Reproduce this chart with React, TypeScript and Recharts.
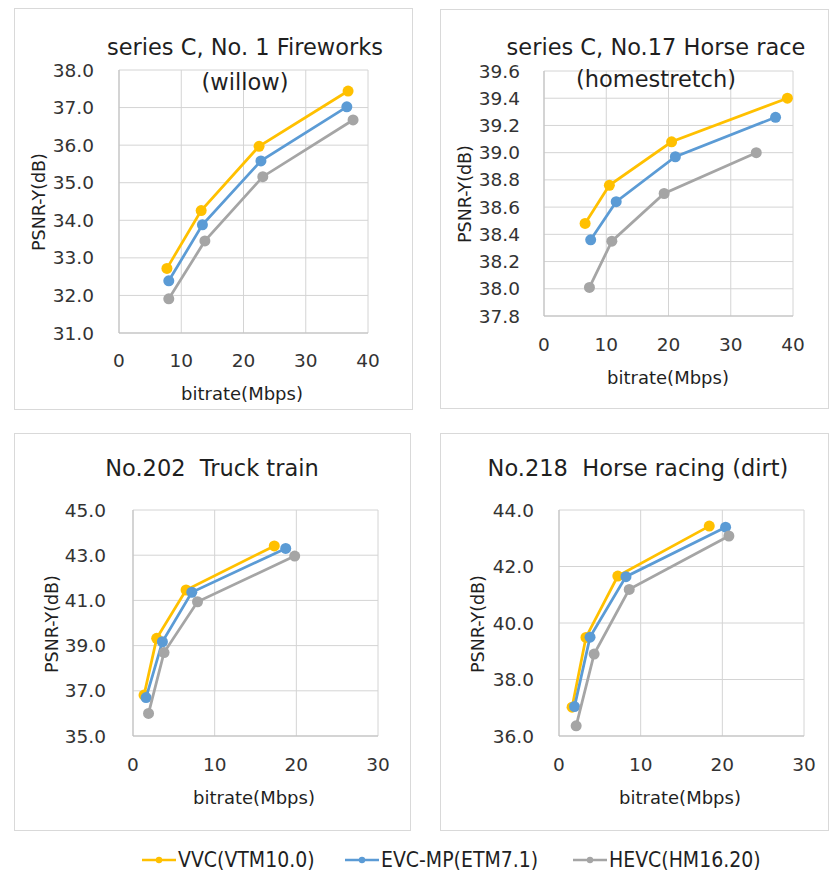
import React from 'react';
import { ScatterChart, Scatter, XAxis, YAxis, CartesianGrid } from 'recharts';

// series C, No.1 Fireworks (willow)
const fwVvcRate = [7.7, 13.2, 22.5, 36.8];
const fwVvcPsnr = [32.72, 34.26, 35.97, 37.44];
const fwEvcRate = [8.0, 13.4, 22.8, 36.6];
const fwEvcPsnr = [32.39, 33.88, 35.58, 37.02];
const fwHevcRate = [8.0, 13.8, 23.1, 37.6];
const fwHevcPsnr = [31.91, 33.45, 35.16, 36.67];

// series C, No.17 Horse race (homestretch)
const hrVvcRate = [6.6, 10.5, 20.5, 39.1];
const hrVvcPsnr = [38.48, 38.76, 39.08, 39.4];
const hrEvcRate = [7.5, 11.6, 21.1, 37.2];
const hrEvcPsnr = [38.36, 38.64, 38.97, 39.26];
const hrHevcRate = [7.3, 10.9, 19.3, 34.1];
const hrHevcPsnr = [38.01, 38.35, 38.7, 39.0];

// No.202 Truck train
const ttVvcRate = [1.35, 2.9, 6.5, 17.3];
const ttVvcPsnr = [36.81, 39.32, 41.46, 43.41];
const ttEvcRate = [1.6, 3.6, 7.2, 18.7];
const ttEvcPsnr = [36.7, 39.17, 41.36, 43.3];
const ttHevcRate = [1.9, 3.8, 7.9, 19.8];
const ttHevcPsnr = [36.0, 38.69, 40.94, 42.96];

// No.218 Horse racing (dirt)
const hdVvcRate = [1.6, 3.3, 7.2, 18.4];
const hdVvcPsnr = [37.02, 39.49, 41.66, 43.43];
const hdEvcRate = [1.9, 3.8, 8.2, 20.4];
const hdEvcPsnr = [37.04, 39.5, 41.64, 43.39];
const hdHevcRate = [2.1, 4.3, 8.6, 20.8];
const hdHevcPsnr = [36.36, 38.9, 41.19, 43.08];

const seriesNames = ['VVC(VTM10.0)', 'EVC-MP(ETM7.1)', 'HEVC(HM16.20)'];
const seriesColors = ['#FFC000', '#5B9BD5', '#A5A5A5'];

const ticksX40 = [0, 10, 20, 30, 40];
const ticksX30 = [0, 10, 20, 30];
const ticksFw = [31, 32, 33, 34, 35, 36, 37, 38];
const ticksHr = [37.8, 38, 38.2, 38.4, 38.6, 38.8, 39, 39.2, 39.4, 39.6];
const ticksTt = [35, 37, 39, 41, 43, 45];
const ticksHd = [36, 38, 40, 42, 44];

const FONT = '"DejaVu Sans", sans-serif';
const TEXT = '#1f1f1f';

const zip = (xs: number[], ys: number[]) => xs.map((x, i) => ({ x, y: ys[i] }));

const panels = [
  {
    title: ['series C, No. 1 Fireworks', '(willow)'],
    titleX: 245, titleY: [47, 82],
    card: { left: 14, top: 8, width: 399, height: 402 },
    margin: { top: 62, right: 45 }, yWidth: 105, xHeight: 77,
    xTicks: ticksX40, yTicks: ticksFw, yMargin: 25, xMargin: 21,
    yLabel: { x: 39, y: 202 }, xLabel: { x: 242, y: 393 },
    series: [zip(fwVvcRate, fwVvcPsnr), zip(fwEvcRate, fwEvcPsnr), zip(fwHevcRate, fwHevcPsnr)],
  },
  {
    title: ['series C, No.17 Horse race', '(homestretch)'],
    titleX: 656, titleY: [47, 79],
    card: { left: 440, top: 9, width: 389, height: 400 },
    margin: { top: 62, right: 36 }, yWidth: 104, xHeight: 93,
    xTicks: ticksX40, yTicks: ticksHr, yMargin: 24, xMargin: 22,
    yLabel: { x: 465, y: 194 }, xLabel: { x: 668, y: 377 },
    series: [zip(hrVvcRate, hrVvcPsnr), zip(hrEvcRate, hrEvcPsnr), zip(hrHevcRate, hrHevcPsnr)],
  },
  {
    title: ['No.202  Truck train'],
    titleX: 212, titleY: [468],
    card: { left: 14, top: 433, width: 397, height: 398 },
    margin: { top: 77, right: 33 }, yWidth: 119, xHeight: 95,
    xTicks: ticksX30, yTicks: ticksTt, yMargin: 27, xMargin: 22,
    yLabel: { x: 52, y: 624 }, xLabel: { x: 254, y: 797 },
    series: [zip(ttVvcRate, ttVvcPsnr), zip(ttEvcRate, ttEvcPsnr), zip(ttHevcRate, ttHevcPsnr)],
  },
  {
    title: ['No.218  Horse racing (dirt)'],
    titleX: 638, titleY: [468],
    card: { left: 440, top: 433, width: 389, height: 398 },
    margin: { top: 77, right: 25 }, yWidth: 119, xHeight: 95,
    xTicks: ticksX30, yTicks: ticksHd, yMargin: 25, xMargin: 22,
    yLabel: { x: 478, y: 624 }, xLabel: { x: 680, y: 797 },
    series: [zip(hdVvcRate, hdVvcPsnr), zip(hdEvcRate, hdEvcPsnr), zip(hdHevcRate, hdHevcPsnr)],
  },
];

const centered = (x: number, y: number, extra: React.CSSProperties = {}): React.CSSProperties => ({
  position: 'absolute',
  left: x,
  top: y,
  transform: 'translate(-50%, -50%)',
  whiteSpace: 'pre',
  fontFamily: FONT,
  color: TEXT,
  ...extra,
});

const dotShape = (color: string) => (props: any) => (
  <circle cx={props.cx} cy={props.cy} r={5.5} fill={color} />
);

const Panel = ({ p }: { p: typeof panels[number] }) => {
  const { card } = p;
  const yMin = p.yTicks[0];
  const yMax = p.yTicks[p.yTicks.length - 1];
  const xMax = p.xTicks[p.xTicks.length - 1];
  return (
    <>
      <div
        style={{
          position: 'absolute',
          left: card.left,
          top: card.top,
          width: card.width,
          height: card.height,
          border: '1px solid #d9d9d9',
          boxSizing: 'border-box',
          background: '#fff',
        }}
      />
      <div style={{ position: 'absolute', left: card.left, top: card.top }}>
        <ScatterChart
          width={card.width}
          height={card.height}
          margin={{ top: p.margin.top, right: p.margin.right, left: 0, bottom: 0 }}
        >
          <CartesianGrid stroke="#d4d4d4" strokeWidth={1} />
          <XAxis
            type="number"
            dataKey="x"
            domain={[0, xMax]}
            ticks={p.xTicks}
            height={p.xHeight}
            tickLine={false}
            tickSize={0}
            tickMargin={p.xMargin}
            axisLine={{ stroke: '#bfbfbf' }}
            tick={{ fill: '#333', fontSize: 18.5, fontFamily: FONT }}
          />
          <YAxis
            type="number"
            dataKey="y"
            domain={[yMin, yMax]}
            ticks={p.yTicks}
            width={p.yWidth}
            tickLine={false}
            tickSize={0}
            tickMargin={p.yMargin}
            axisLine={{ stroke: '#bfbfbf' }}
            tickFormatter={(v: number) => v.toFixed(1)}
            tick={{ fill: '#333', fontSize: 18.5, fontFamily: FONT }}
          />
          {p.series.map((d, i) => (
            <Scatter
              key={seriesNames[i]}
              name={seriesNames[i]}
              data={d}
              fill={seriesColors[i]}
              line={{ stroke: seriesColors[i], strokeWidth: 2.75 }}
              lineType="joint"
              shape={dotShape(seriesColors[i])}
              isAnimationActive={false}
            />
          ))}
        </ScatterChart>
      </div>
      {p.title.map((t, i) => (
        <div key={t} style={centered(p.titleX, p.titleY[i], { fontSize: 22.5 })}>
          {t}
        </div>
      ))}
      <div
        style={centered(p.yLabel.x, p.yLabel.y, {
          fontSize: 17.5,
          transform: 'translate(-50%, -50%) rotate(-90deg)',
        })}
      >
        PSNR-Y(dB)
      </div>
      <div style={centered(p.xLabel.x, p.xLabel.y, { fontSize: 18 })}>bitrate(Mbps)</div>
    </>
  );
};

const LegendItem = ({ name, color, x }: { name: string; color: string; x: number }) => (
  <div style={{ position: 'absolute', left: x, top: 847, height: 26, display: 'flex', alignItems: 'center' }}>
    <svg width={34} height={12}>
      <line x1={0} y1={6} x2={34} y2={6} stroke={color} strokeWidth={2.5} />
      <circle cx={17} cy={6} r={3.2} fill={color} />
    </svg>
    <span
      style={{
        marginLeft: 2,
        fontFamily: '"DejaVu Sans Condensed", "DejaVu Sans", sans-serif',
        fontSize: 21,
        color: TEXT,
        whiteSpace: 'nowrap',
      }}
    >
      {name}
    </span>
  </div>
);

const legendX = [142, 345, 573];

export default function App() {
  return (
    <div style={{ position: 'absolute', left: 0, top: 0, width: 832, height: 872, background: '#fff' }}>
      {panels.map((p, i) => (
        <Panel key={i} p={p} />
      ))}
      {seriesNames.map((n, i) => (
        <LegendItem key={n} name={n} color={seriesColors[i]} x={legendX[i]} />
      ))}
    </div>
  );
}
